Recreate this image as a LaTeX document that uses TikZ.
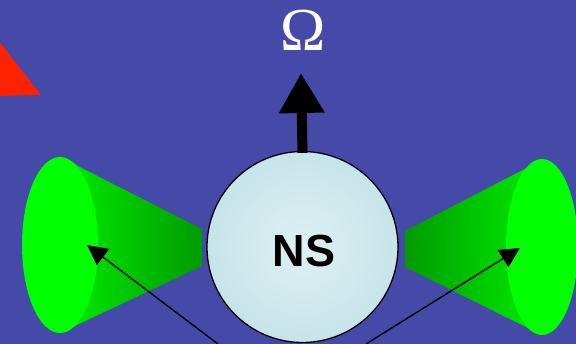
\documentclass[tikz,border=0pt]{standalone}
\usepackage{fontspec}
\setmainfont{Liberation Serif}
\newfontfamily\labelsans{Liberation Sans}
\usetikzlibrary{arrows.meta}
\definecolor{bgblue}{RGB}{69,73,168}
\definecolor{brightgreen}{RGB}{0,255,0}
\definecolor{conegreen}{RGB}{0,246,0}
\definecolor{deepgreen}{RGB}{0,125,0}
\definecolor{starin}{RGB}{222,240,243}
\definecolor{starout}{RGB}{198,228,233}
\definecolor{flagred}{RGB}{255,34,0}
\tikzset{
  conecap/.style={fill=brightgreen, draw=none},
  sightline/.style={draw=black, line width=1.4pt, -{Triangle[length=20pt,width=20pt]}},
  spinarrow/.style={draw=black, line width=10pt, -{Triangle[length=40pt,width=43pt]}},
  star/.style={circle, minimum size=191pt, inner sep=0pt, draw=black, line width=1.3pt,
    inner color=starin, outer color=starout},
}
\begin{document}
\begin{tikzpicture}[x=1pt,y=-1pt]
  \useasboundingbox (0,0) rectangle (576,344);
  \clip (0,0) rectangle (576,344);
  \fill[bgblue] (0,0) rectangle (576,344);

  % red corner marker
  \fill[flagred] (-5,36) -- (41,95) -- (-5,96) -- cycle;

  % left emission cone: the ramp runs linearly from the cap edge (x=98) to x=202
  % (an axis shading ramps over the middle half of its box)
  \begin{scope}
    \clip (202,229) -- (60,157) -- (60,333) -- (202,266) -- cycle;
    \shade[left color=conegreen, right color=deepgreen] (46,150) rectangle (254,340);
  \end{scope}
  \path[conecap] (60,245) ellipse [x radius=38, y radius=88];

  % right emission cone, ramp from the cap edge (x=506) down to x=405
  \begin{scope}
    \clip (405,231) -- (542,160) -- (542,335) -- (405,267) -- cycle;
    \shade[left color=deepgreen, right color=conegreen] (354.5,150) rectangle (556.5,340);
  \end{scope}
  \path[conecap] (542,247) ellipse [x radius=36, y radius=88];

  % neutron star
  \node[star] (ns) at (302.5,247) {};
  \node[font=\labelsans\bfseries\fontsize{45}{45}\selectfont, anchor=base] (nslabel) at (304,267) {NS};

  % spin axis
  \coordinate (spintip) at (301,73);
  \draw[spinarrow] (ns.north) ++(0,2) -- (spintip);
  \node[text=white, font=\fontsize{61}{61}\selectfont, anchor=base] (omega) at (303,51) {Ω};

  % lines of sight
  \coordinate (viewl) at (218,344);
  \coordinate (viewr) at (366,344);
  \coordinate (tipl) at (87,245);
  \coordinate (tipr) at (520,248);
  \draw[sightline] (viewl) -- (tipl);
  \draw[sightline] (viewr) -- (tipr);
\end{tikzpicture}
\end{document}
